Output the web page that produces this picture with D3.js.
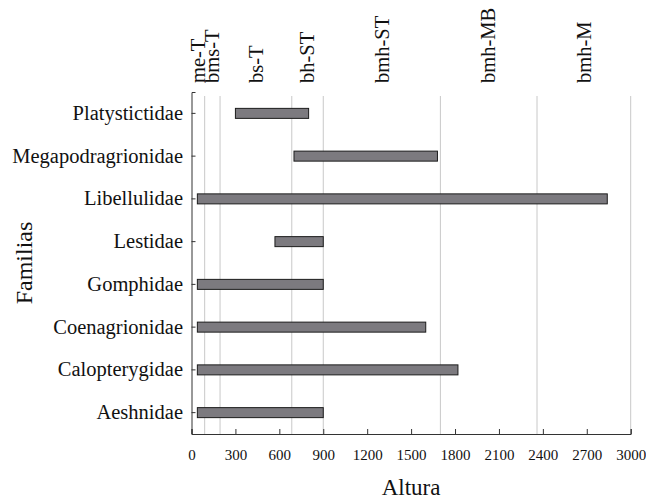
<!DOCTYPE html>
<html>
<head>
<meta charset="utf-8">
<script src="https://cdn.jsdelivr.net/npm/d3@7"></script>
<style>
  body { margin: 0; background: #fff; }
  svg text { font-family: "Liberation Serif", "Times New Roman", serif; fill: #111; }
</style>
</head>
<body>
<div id="chart"></div>
<script>
// Data
var families = ["Platystictidae", "Megapodragrionidae", "Libellulidae", "Lestidae",
                "Gomphidae", "Coenagrionidae", "Calopterygidae", "Aeshnidae"];
var minAlt = [300, 700, 40, 570, 40, 40, 40, 40];
var maxAlt = [800, 1680, 2840, 900, 900, 1600, 1820, 900];

// life zones along the altitude axis
var zoneNames = ["me-T", "bms-T", "bs-T", "bh-ST", "bmh-ST", "bmh-MB", "bmh-M"];
var zoneBounds = [0, 90, 195, 685, 900, 1700, 2360, 3000];

var xTicks = [0, 300, 600, 900, 1200, 1500, 1800, 2100, 2400, 2700, 3000];

// set the dimensions of the graph
var width = 646, height = 502;
var plotLeft = 191.5, plotRight = 630.7, plotTop = 92, plotBottom = 434;

var svg = d3.select("#chart")
    .append("svg")
    .attr("width", width)
    .attr("height", height);

var x = d3.scaleLinear()
    .domain([0, 3000])
    .range([plotLeft, plotRight]);

var y = d3.scaleBand()
    .domain(families)
    .range([plotTop, plotBottom])
    .padding(0);

// zone boundaries (grey vertical lines)
svg.append("g")
    .selectAll("line")
    .data(zoneBounds.slice(1))
    .enter()
    .append("line")
    .attr("x1", function(d) { return x(d); })
    .attr("x2", function(d) { return x(d); })
    .attr("y1", 96)
    .attr("y2", plotBottom)
    .attr("stroke", "#c8c8c8")
    .attr("stroke-width", 1);

// zone labels on top, rotated
svg.append("g")
    .selectAll("text")
    .data(zoneNames)
    .enter()
    .append("text")
    .attr("transform", function(d, i) {
        var cx = x((zoneBounds[i] + zoneBounds[i + 1]) / 2);
        return "translate(" + cx + ",83)rotate(-90)";
    })
    .attr("dy", "0.33em")
    .style("font-size", "20.5px")
    .text(function(d) { return d; });

// Bars
svg.append("g")
    .selectAll("rect")
    .data(families)
    .enter()
    .append("rect")
    .attr("x", function(d, i) { return x(minAlt[i]); })
    .attr("width", function(d, i) { return x(maxAlt[i]) - x(minAlt[i]); })
    .attr("y", function(d) { return y(d) + y.bandwidth() / 2 - 5; })
    .attr("height", 10)
    .attr("fill", "#7c7a7f")
    .attr("stroke", "#1c1c1c")
    .attr("stroke-width", 1);

// X axis (ticks inside)
var xAxis = svg.append("g")
    .attr("transform", "translate(0," + plotBottom + ")")
    .call(d3.axisBottom(x).tickValues(xTicks).tickFormat(d3.format("d"))
        .tickSize(-5).tickPadding(15));
xAxis.selectAll("text").style("font-size", "15px");

// Y axis (ticks inside)
var yAxis = svg.append("g")
    .attr("transform", "translate(" + plotLeft + ",0)")
    .call(d3.axisLeft(y).tickSize(-4).tickPadding(8.5));
yAxis.selectAll("text").style("font-size", "20.5px");

svg.selectAll(".domain, .tick line").attr("stroke", "#333");
svg.selectAll(".tick text").attr("fill", "#111");

// axis titles
svg.append("text")
    .attr("x", (plotLeft + plotRight) / 2)
    .attr("y", 495)
    .attr("text-anchor", "middle")
    .style("font-size", "23px")
    .text("Altura");

svg.append("text")
    .attr("transform", "translate(32," + (plotTop + plotBottom) / 2 + ")rotate(-90)")
    .attr("text-anchor", "middle")
    .style("font-size", "24px")
    .text("Familias");
</script>
</body>
</html>
